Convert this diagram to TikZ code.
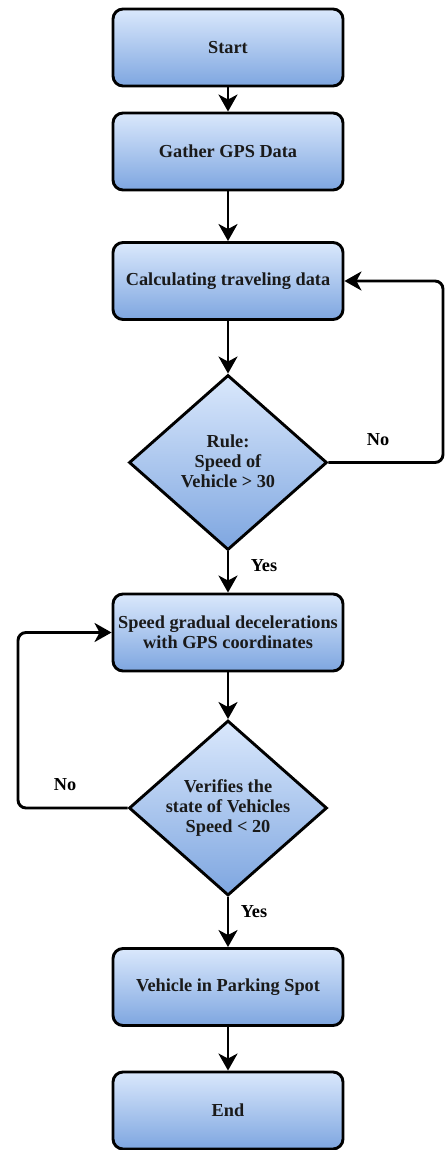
\documentclass[tikz,border=0pt]{standalone}
\usepackage{fontspec}
\setmainfont{Liberation Serif}
\usetikzlibrary{shapes.geometric,arrows.meta}
\definecolor{topblue}{HTML}{DAE8FC}
\definecolor{botblue}{HTML}{7EA6E0}
\definecolor{txtc}{HTML}{1A1A1A}
\tikzset{
  every node/.style={font=\fontsize{18.3pt}{20pt}\selectfont\bfseries, text=txtc},
  procbox/.style={draw=black, line width=2.9pt, rounded corners=10pt,
    top color=topblue, bottom color=botblue,
    minimum width=230pt, minimum height=77pt, align=center, inner sep=0pt},
  decbox/.style={draw=black, line width=2.9pt, diamond, aspect=1.1314,
    top color=topblue, bottom color=botblue,
    minimum width=198pt, minimum height=175pt, inner sep=0pt},
  dectext/.style={align=center},
  conn/.style={line width=2.9pt, -{Stealth[length=17pt,width=19pt,inset=5pt]}, rounded corners=8pt},
  lbl/.style={text=black}
}
\begin{document}
\begin{tikzpicture}[x=1pt,y=-1pt]
\useasboundingbox (0,0) rectangle (445,1150);
\node[procbox] (start) at (228,47.5) {Start};
\node[procbox] (gather) at (228,151.5) {Gather GPS Data};
\node[procbox] (calc) at (228,281) {Calculating traveling data};
\node[decbox] (d1) at (228,462.5) {};
\node[dectext] (d1t) at (228,461) {Rule:\\Speed of\\Vehicle > 30};
\node[procbox] (speed) at (228,632.5) {Speed gradual decelerations\\with GPS coordinates};
\node[decbox] (d2) at (228,808) {};
\node[dectext] (d2t) at (228,808) {Verifies the\\state of Vehicles\\Speed < 20};
\node[procbox] (park) at (228,987) {Vehicle in Parking Spot};
\node[procbox] (end) at (228,1110.5) {End};

\coordinate (r1) at (443,462.5);
\coordinate (r2) at (443,281);
\coordinate (l1) at (18,808);
\coordinate (l2) at (18,632.5);

\draw[conn] (start) -- (gather);
\draw[conn] (gather) -- (calc);
\draw[conn] (calc) -- (d1);
\draw[conn] (d1) -- (speed);
\draw[conn] (speed) -- (d2);
\draw[conn] (d2) -- (park);
\draw[conn] (park) -- (end);
\draw[conn] (d1.east) -- (r1) -- (r2) -- (calc.east);
\draw[conn] (d2.west) -- (l1) -- (l2) -- (speed.west);

\node[lbl] (no1) at (378,440) {No};
\node[lbl] (yes1) at (264,566) {Yes};
\node[lbl] (no2) at (65,785) {No};
\node[lbl] (yes2) at (254,912) {Yes};
\end{tikzpicture}
\end{document}
